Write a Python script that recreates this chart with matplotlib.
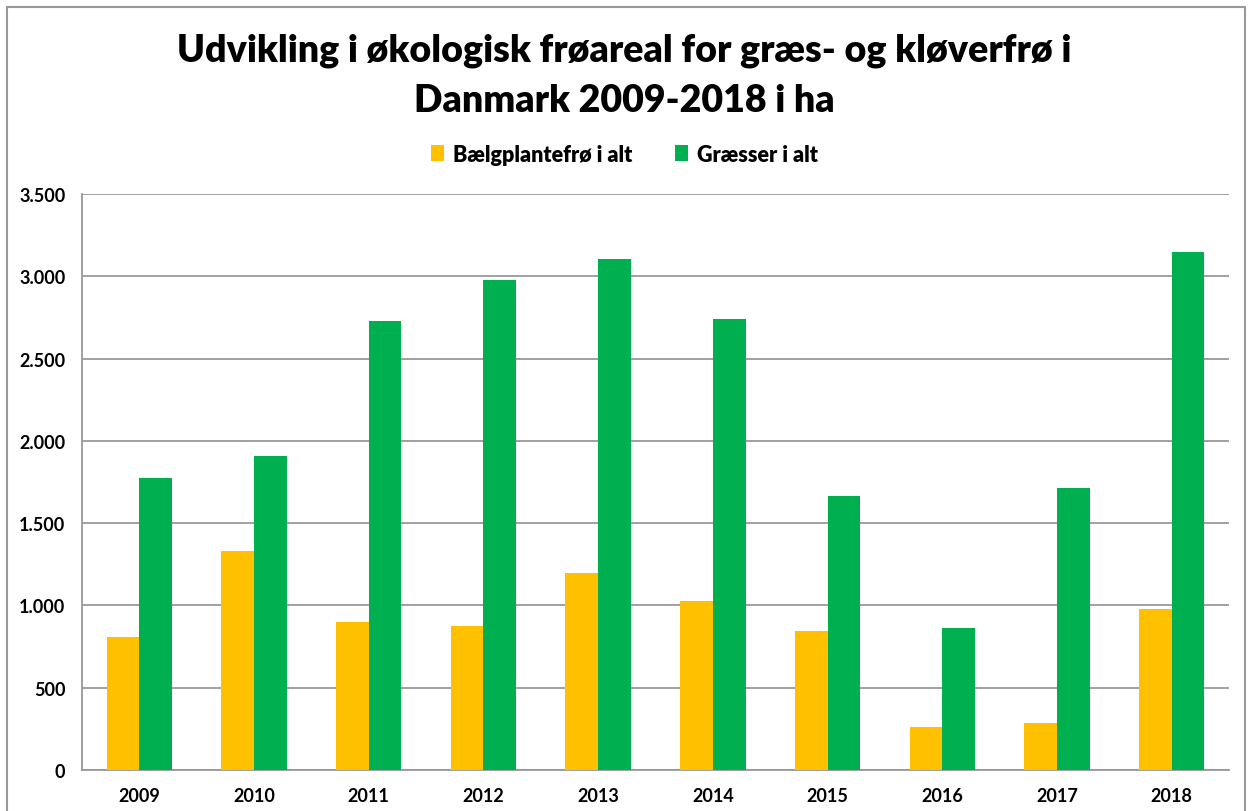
import matplotlib
matplotlib.use("Agg")
import matplotlib.pyplot as plt
import numpy as np
from matplotlib.patches import Rectangle
from matplotlib.ticker import FuncFormatter

plt.rcParams['font.family'] = ['Lato', 'DejaVu Sans']

years = ['2009', '2010', '2011', '2012', '2013', '2014', '2015', '2016', '2017', '2018']
baelgplanter = [810, 1330, 900, 875, 1195, 1025, 845, 262, 288, 980]
graesser = [1775, 1908, 2728, 2977, 3108, 2740, 1665, 862, 1715, 3145]
serier = ['Bælgplantefrø i alt', 'Græsser i alt']

fig = plt.figure(figsize=(12.49, 8.12), dpi=100)
ax = fig.add_axes([82 / 1249, 1 - 771 / 812, (1229 - 82) / 1249, (771 - 195) / 812])

x = np.arange(len(years))
w = 0.285
ax.bar(x - w / 2, baelgplanter, w, color='#FFC000', label=serier[0], zorder=3)
ax.bar(x + w / 2, graesser, w, color='#00B050', label=serier[1], zorder=3)

ax.set_xlim(-0.5, len(years) - 0.5)
ax.set_ylim(0, 3500)
ax.set_yticks(range(0, 3501, 500))
ax.yaxis.set_major_formatter(FuncFormatter(lambda v, p: f'{int(v):,}'.replace(',', '.')))
ax.set_xticks(x)
ax.set_xticklabels(years)
ax.tick_params(axis='both', length=0, labelsize=13)
ax.tick_params(axis='x', pad=12)
ax.tick_params(axis='y', pad=12)
for lab in ax.get_xticklabels() + ax.get_yticklabels():
    lab.set_fontweight('bold')

ax.grid(axis='y', color='#999999', linewidth=1.3, zorder=0)
for s in ['top', 'right']:
    ax.spines[s].set_visible(False)
ax.spines['left'].set_color('#999999')
ax.spines['bottom'].set_color('#999999')
ax.spines['left'].set_linewidth(1.3)
ax.spines['bottom'].set_linewidth(1.3)

fig.text(0.5, 1 - 51 / 812, 'Udvikling i økologisk frøareal for græs- og kløverfrø i',
         ha='center', va='center', fontsize=27, fontweight='heavy')
fig.text(0.5, 1 - 101 / 812, 'Danmark 2009-2018 i ha',
         ha='center', va='center', fontsize=27, fontweight='heavy')

fig.legend(loc='center', bbox_to_anchor=(0.5, 1 - 155 / 812), ncol=2, frameon=False,
           prop={'weight': 'heavy', 'size': 15.5}, handlelength=0.6, handleheight=0.7,
           handletextpad=0.4, columnspacing=2.0)

fig.patches.append(Rectangle((7 / 1249, -0.01), (1245 - 7) / 1249, 1 - 8 / 812 + 0.01,
                             transform=fig.transFigure, fill=False,
                             edgecolor='#999999', linewidth=1.5))

fig.savefig('out.png', dpi=100)
